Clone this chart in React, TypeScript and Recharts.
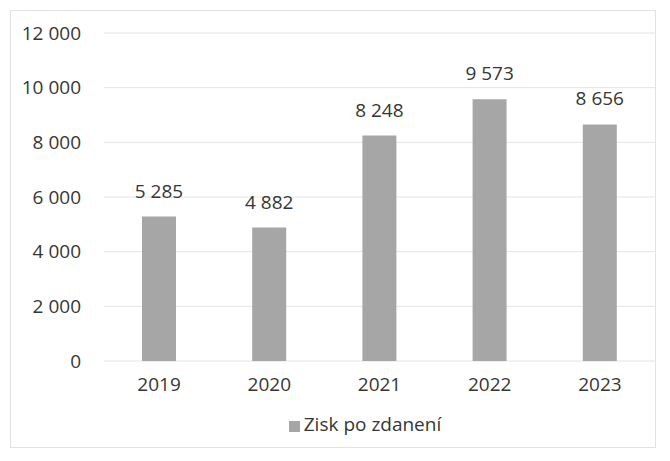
import { BarChart, Bar, XAxis, YAxis, CartesianGrid, Legend, LabelList } from 'recharts'

const YEARS = ['2019', '2020', '2021', '2022', '2023']
const PROFIT = [5285, 4882, 8248, 9573, 8656]
const Y_TICKS = [0, 2000, 4000, 6000, 8000, 10000, 12000]

const data = YEARS.map((year, i) => ({ year, profit: PROFIT[i] }))

const fmt = (v: number) => String(v).replace(/\B(?=(\d{3})+(?!\d))/g, ' ')

const FONT = '"Open Sans", sans-serif'
const TEXT = '#363636'
const FS = 19

// bar value above each bar, drawn as one line (default label wraps to bar width)
const ValueLabel = (props: any) => {
  const { x, y, width, value } = props
  return (
    <text
      x={x + width / 2}
      y={y - 19}
      textAnchor="middle"
      fontSize={FS}
      fontFamily={FONT}
      fill={TEXT}
    >
      {fmt(value)}
    </text>
  )
}

export default function App() {
  return (
    <div
      style={{
        position: 'absolute',
        left: 10,
        top: 10,
        width: 646,
        height: 438,
        border: '1px solid #e2e2e2',
        boxSizing: 'border-box',
        background: '#fff',
        fontFamily: FONT,
      }}
    >
      <BarChart
        width={644}
        height={436}
        data={data}
        margin={{ top: 22, right: 0, left: 0, bottom: 0 }}
        barSize={34}
      >
        <CartesianGrid vertical={false} stroke="#e4e4e4" />
        <XAxis
          dataKey="year"
          axisLine={false}
          tickLine={false}
          tickSize={0}
          tickMargin={17}
          height={50}
          tick={{ fontSize: FS, fill: TEXT, fontFamily: FONT }}
        />
        <YAxis
          domain={[0, 12000]}
          ticks={Y_TICKS}
          width={93}
          axisLine={false}
          tickLine={false}
          tickSize={0}
          tickMargin={23}
          tickFormatter={fmt}
          tick={{ fontSize: FS, fill: TEXT, fontFamily: FONT }}
        />
        <Legend
          verticalAlign="bottom"
          iconType="square"
          iconSize={11}
          height={36}
          wrapperStyle={{ paddingLeft: 74, boxSizing: 'border-box' }}
          formatter={(v: string) => <span style={{ color: TEXT, fontSize: FS, fontFamily: FONT }}>{v}</span>}
        />
        <Bar dataKey="profit" name="Zisk po zdanení" fill="#a6a6a6" isAnimationActive={false}>
          <LabelList dataKey="profit" content={ValueLabel} />
        </Bar>
      </BarChart>
    </div>
  )
}
